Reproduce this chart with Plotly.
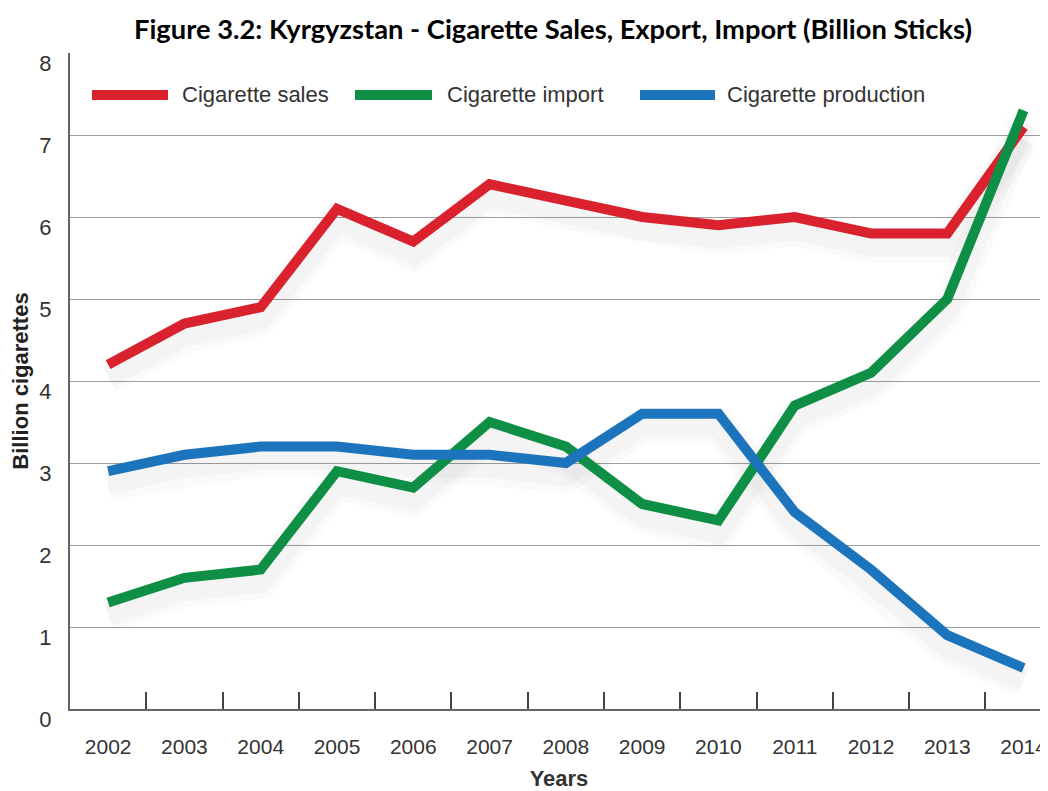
import plotly.graph_objects as go

years = ["2002", "2003", "2004", "2005", "2006", "2007", "2008",
         "2009", "2010", "2011", "2012", "2013", "2014"]
sales = [4.2, 4.7, 4.9, 6.1, 5.7, 6.4, 6.2, 6.0, 5.9, 6.0, 5.8, 5.8, 7.1]
imports = [1.3, 1.6, 1.7, 2.9, 2.7, 3.5, 3.2, 2.5, 2.3, 3.7, 4.1, 5.0, 7.3]
production = [2.9, 3.1, 3.2, 3.2, 3.1, 3.1, 3.0, 3.6, 3.6, 2.4, 1.7, 0.9, 0.5]

series_names = ["Cigarette sales", "Cigarette import", "Cigarette production"]
series_colors = ["#D9222E", "#0E8F45", "#1C75BC"]
series_values = [sales, imports, production]

# page offset (default body margin of the html page)
OFF = 8
W, H = 1048 - OFF, 791 - OFF
L, R, T, B = 70 - OFF, 0, 53 - OFF, 82
pw, ph = W - L - R, H - T - B

def px2paper_x(px):
    return (px - OFF - L) / pw

def px2paper_y(py):
    return (H - B - (py - OFF)) / ph

fig = go.Figure()

# soft shadows
for vals in series_values:
    for w, a in [(34, 0.018), (22, 0.022)]:
        fig.add_trace(go.Scatter(x=years, y=[v - 0.15 for v in vals], mode="lines",
                                 line=dict(color=f"rgba(0,0,0,{a})", width=w),
                                 hoverinfo="skip", showlegend=False))
for name, col, vals in zip(series_names, series_colors, series_values):
    fig.add_trace(go.Scatter(x=years, y=vals, mode="lines", name=name,
                             line=dict(color=col, width=10), showlegend=False))

font_main = "Liberation Sans, Arial, sans-serif"

# custom legend
legend_items = [(92, 168, 180), (355, 432, 445), (640, 715, 725)]
shapes = []
annotations = []
ly = px2paper_y(95)
for (x0, x1, tx), name, col in zip(legend_items, series_names, series_colors):
    shapes.append(dict(type="line", xref="paper", yref="paper",
                       x0=px2paper_x(x0), x1=px2paper_x(x1), y0=ly, y1=ly,
                       line=dict(color=col, width=10)))
    annotations.append(dict(xref="paper", yref="paper", x=px2paper_x(tx), y=ly,
                            xanchor="left", yanchor="middle", showarrow=False,
                            text=name, font=dict(family=font_main, size=22, color="#333333")))

fig.update_layout(
    width=W, height=H,
    margin=dict(l=L, r=R, t=T, b=B, autoexpand=False),
    paper_bgcolor="white", plot_bgcolor="white",
    title=dict(text="<b>Figure 3.2: Kyrgyzstan - Cigarette Sales, Export, Import (Billion Sticks)</b>",
               x=(553 - OFF) / W, xanchor="center", y=1 - (29 - OFF) / H, yanchor="middle",
               font=dict(family="Lato, Open Sans, sans-serif", size=27.3, color="black")),
    shapes=shapes, annotations=annotations,
    showlegend=False,
)
fig.update_xaxes(type="category", range=[-0.5, 12.32], tickson="boundaries",
                 automargin=False,
                 ticks="inside", ticklen=17, tickwidth=1.5, tickcolor="#444444",
                 showgrid=False, showline=True, linecolor="#666666", linewidth=2,
                 tickfont=dict(family=font_main, size=21, color="#333333"),
                 ticklabelstandoff=18,
                 title=dict(text="<b>Years</b>", font=dict(family=font_main, size=22, color="#333333"),
                            standoff=17))
fig.update_yaxes(range=[0, 8], tickvals=[0, 1, 2, 3, 4, 5, 6, 7, 8],
                 automargin=False,
                 showgrid=True, gridcolor="#a0a0a0", gridwidth=1,
                 showline=True, linecolor="#666666", linewidth=2, mirror=False,
                 zeroline=False, ticks="",
                 tickfont=dict(family=font_main, size=22, color="#333333"),
                 ticklabelstandoff=12, ticklabelshift=10,
                 title=dict(text="<b>Billion cigarettes</b>",
                            font=dict(family=font_main, size=22, color="#222222"),
                            standoff=12))

fig.write_html("out.html")
